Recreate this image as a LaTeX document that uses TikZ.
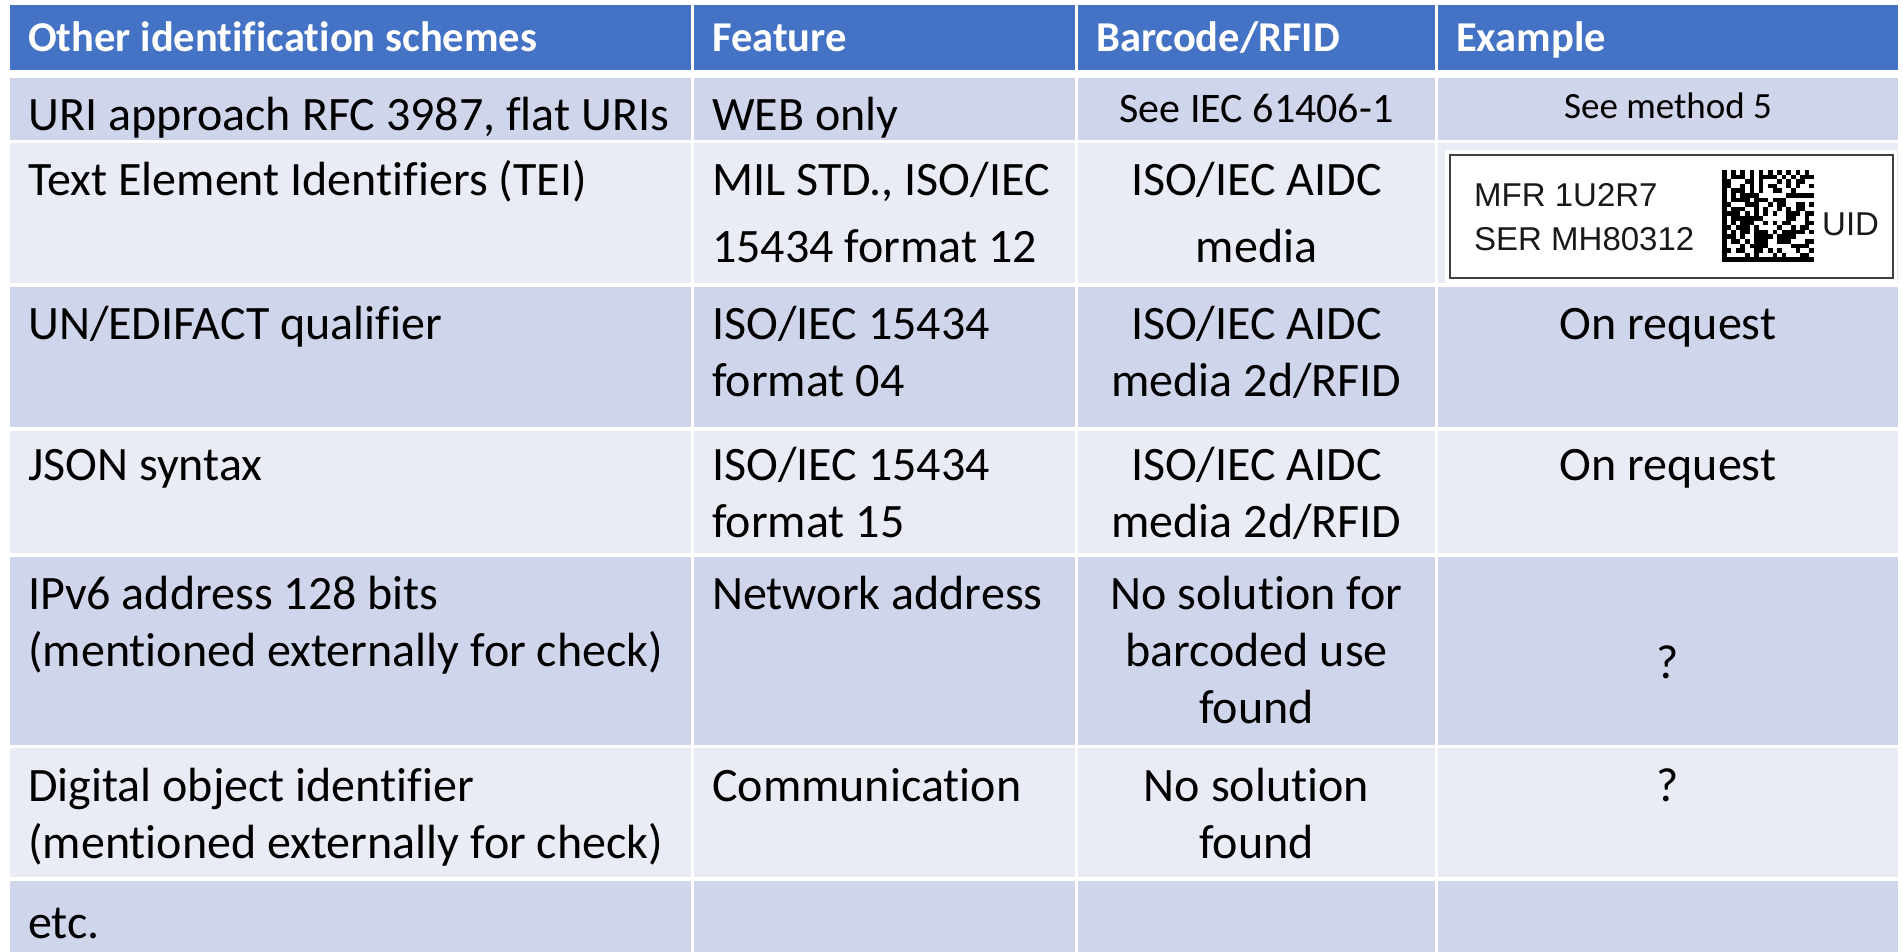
\documentclass[tikz,border=0pt]{standalone}
\usepackage{fontspec}
\setmainfont{Carlito}[Ligatures={TeX,NoCommon}]
\newfontfamily\labelfont{Liberation Sans}
\definecolor{hdrblue}{HTML}{4472C4}
\definecolor{rowdark}{HTML}{CFD5EA}
\definecolor{rowlight}{HTML}{E9EBF5}
\begin{document}
\begin{tikzpicture}[x=1pt,y=-1pt,
  txt/.style={inner sep=0pt, font=\fontsize{48}{57}\selectfont},
  lcell/.style={txt, anchor=north west, align=left},
  ccell/.style={txt, anchor=north, align=center},
  widegap/.style={font=\fontsize{48}{67}\selectfont},
  hcell/.style={inner sep=0pt, anchor=base west, text=white, font=\fontsize{42.5}{51}\selectfont\bfseries},
  scell/.style={inner sep=0pt, anchor=base},
  uidtxt/.style={inner sep=0pt, anchor=base west, text=black!90, font=\labelfont\fontsize{33}{40}\selectfont}]
\useasboundingbox (0,0) rectangle (1903,952);
\fill[white] (0,0) rectangle (1903,952);

% table cells
\begin{scope}
\clip (0,0) rectangle (1903,952);
\foreach \xa/\xb in {10/691,694/1075,1078/1435,1438/1898}
  \fill[hdrblue] (\xa,5) rectangle (\xb,70);
\foreach \ya/\yb/\cc in {78/140/rowdark,143/283/rowlight,287/427/rowdark,431/553/rowlight,557/745/rowdark,748/877/rowlight,881/990/rowdark}
  \foreach \xa/\xb in {10/691,694/1075,1078/1435,1438/1898}
    \fill[\cc] (\xa,\ya) rectangle (\xb,\yb);
\end{scope}

% header
\node[hcell] (h1) at (28,52) {Other identification schemes};
\node[hcell] (h2) at (712,52) {Feature};
\node[hcell] (h3) at (1096,52) {Barcode/RFID};
\node[hcell] (h4) at (1456,52) {Example};

% row 1
\node[lcell] (a1) at (28,90) {\strut URI approach RFC 3987, flat URIs};
\node[lcell] (b1) at (712,90) {\strut WEB only};
\node[scell, font=\fontsize{42}{51}\selectfont] (c1) at (1256.5,123) {See IEC 61406-1};
\node[scell, font=\fontsize{37}{45}\selectfont] (d1) at (1668,119) {See method 5};

% row 2
\node[lcell] (a2) at (28,155) {\strut Text Element Identifiers (TEI)};
\node[lcell, widegap] (b2) at (712,148) {\strut MIL STD., ISO/IEC\\15434 format 12};
\node[ccell, widegap] (c2) at (1256.5,148) {\strut ISO/IEC AIDC\\media};

% row 3
\node[lcell] (a3) at (28,299) {\strut UN/EDIFACT qualifier};
\node[lcell] (b3) at (712,299) {\strut ISO/IEC 15434\\format 04};
\node[ccell] (c3) at (1256.5,299) {\strut ISO/IEC AIDC\\media 2d/RFID};
\node[ccell] (d3) at (1668,299) {\strut On request};

% row 4
\node[lcell] (a4) at (28,440) {\strut JSON syntax};
\node[lcell] (b4) at (712,440) {\strut ISO/IEC 15434\\format 15};
\node[ccell] (c4) at (1256.5,440) {\strut ISO/IEC AIDC\\media 2d/RFID};
\node[ccell] (d4) at (1668,440) {\strut On request};

% row 5
\node[lcell] (a5) at (28,569) {\strut IPv6 address 128 bits\\(mentioned externally for check)};
\node[lcell] (b5) at (712,569) {\strut Network address};
\node[ccell] (c5) at (1256.5,569) {\strut No solution for\\barcoded use\\found};
\node[scell, font=\fontsize{48}{57}\selectfont] (d5) at (1668,678) {?};

% row 6
\node[lcell] (a6) at (28,761) {\strut Digital object identifier\\(mentioned externally for check)};
\node[lcell] (b6) at (712,761) {\strut Communication};
\node[ccell] (c6) at (1256.5,761) {\strut No solution\\found};
\node[ccell] (d6) at (1668,761) {\strut ?};

% row 7
\node[lcell] (a7) at (28,898) {\strut etc.};

% UID label
\fill[white] (1445,150) rectangle (1897,283);
\draw[black!75, line width=2.5pt] (1450,155) rectangle (1893,278);
\node[uidtxt] (mfr) at (1474,207) {MFR 1U2R7};
\node[uidtxt] (ser) at (1474,251) {SER MH80312};
\node[uidtxt] (uid) at (1822,236) {UID};

% Data Matrix symbol
\pgfmathsetseed{4242}
\begin{scope}[shift={(1722,170)}]
  \def\dmmod{4.6}
  \fill[black] (0,0) rectangle (\dmmod,20*\dmmod);
  \fill[black] (0,19*\dmmod) rectangle (20*\dmmod,20*\dmmod);
  \foreach \i in {0,2,...,18}
    \fill[black] (\i*\dmmod,0) rectangle ++(\dmmod,\dmmod);
  \foreach \j in {1,3,...,17}
    \fill[black] (19*\dmmod,\j*\dmmod) rectangle ++(\dmmod,\dmmod);
  \foreach \i in {1,...,18}
    \foreach \j in {1,...,18}{
      \pgfmathrandominteger{\rnd}{0}{99}
      \ifnum\rnd<50 \fill[black] (\i*\dmmod,\j*\dmmod) rectangle ++(\dmmod,\dmmod);\fi
    }
\end{scope}
\end{tikzpicture}
\end{document}
